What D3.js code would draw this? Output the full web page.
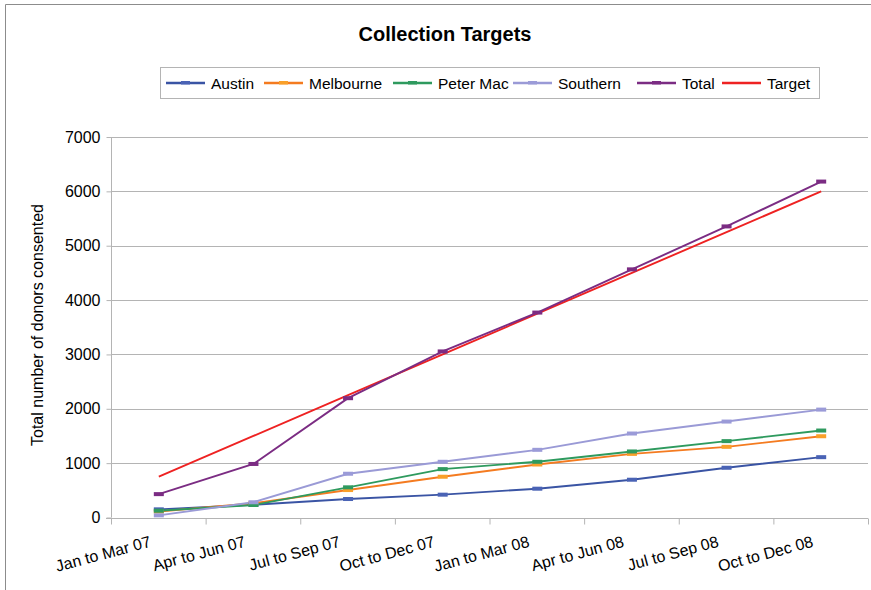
<!DOCTYPE html>
<html><head><meta charset="utf-8">
<script src="https://cdn.jsdelivr.net/npm/d3@7"></script>
<style>body{margin:0;background:#fff;}svg{display:block;font-family:"Liberation Sans",Arial,sans-serif;}</style>
</head><body><svg id="c" width="871" height="590"></svg>
<script>
const categories = ["Jan to Mar 07","Apr to Jun 07","Jul to Sep 07","Oct to Dec 07","Jan to Mar 08","Apr to Jun 08","Jul to Sep 08","Oct to Dec 08"];
const austin    = [150, 235, 340, 420, 530, 695, 915, 1110];
const melbourne = [110, 262, 505, 750, 975, 1170, 1300, 1495];
const peterMac  = [125, 230, 555, 890, 1025, 1215, 1405, 1600];
const southern  = [40, 280, 805, 1025, 1245, 1545, 1765, 1985];
const total     = [430, 985, 2195, 3055, 3770, 4565, 5355, 6180];
const target    = [750, 1500, 2250, 3000, 3750, 4500, 5250, 6000];
const yTicks = [0,1000,2000,3000,4000,5000,6000,7000];
const seriesNames = ["Austin","Melbourne","Peter Mac","Southern","Total","Target"];

const series = [
  {name:"Austin", values:austin, color:"#3a54a4", marker:"#4a63b5"},
  {name:"Melbourne", values:melbourne, color:"#f47b20", marker:"#f9a02a"},
  {name:"Peter Mac", values:peterMac, color:"#2e9a5e", marker:"#2f9a5f"},
  {name:"Southern", values:southern, color:"#9a9ad6", marker:"#9b9bd8"},
  {name:"Total", values:total, color:"#7b2c83", marker:"#7b2c83"},
  {name:"Target", values:target, color:"#ee2222", marker:null}
];

const svg = d3.select("#c");
// frame
svg.append("path").attr("d","M5.5,590 V4.5 H871").attr("fill","none").attr("stroke","#8c8c8c").attr("stroke-width",1);

const x = d3.scaleBand().domain(categories).range([111.5, 868.5]);
const y = d3.scaleLinear().domain([0,7000]).range([517.5, 137]);

// gridlines
svg.append("g").selectAll("line").data(yTicks.filter(d=>d>0)).join("line")
  .attr("x1",111.5).attr("x2",868).attr("y1",d=>Math.round(y(d))+0.5).attr("y2",d=>Math.round(y(d))+0.5)
  .attr("stroke","#b4b4b4").attr("stroke-width",1);

// y axis
const yAxis = svg.append("g").attr("transform","translate(111.5,0)")
  .call(d3.axisLeft(y).tickValues(yTicks).tickSize(5).tickPadding(6).tickFormat(d3.format("d")));
yAxis.select(".domain").attr("stroke","#b4b4b4").attr("d","M0,"+y(0)+"V"+y(7000));
yAxis.selectAll(".tick line").attr("stroke","#b4b4b4");
yAxis.selectAll(".tick text").attr("font-size",16).attr("fill","#000").attr("font-family","Liberation Sans, Arial, sans-serif");

// x axis
const xAxis = svg.append("g").attr("transform","translate(0,"+(Math.round(y(0))+0.5)+")");
xAxis.append("line").attr("x1",106).attr("x2",868).attr("y1",0).attr("y2",0).attr("stroke","#b4b4b4");
const bounds = categories.map(c=>x(c)).concat([x.range()[1]]);
xAxis.selectAll("line.t").data(bounds).join("line").attr("class","t")
  .attr("x1",d=>d).attr("x2",d=>d).attr("y1",0).attr("y2",6).attr("stroke","#b4b4b4");
xAxis.selectAll("text").data(categories).join("text")
  .attr("transform",d=>"translate("+(x(d)+x.bandwidth()/2-7)+",28) rotate(-15)")
  .attr("text-anchor","end").attr("font-size",16).attr("fill","#000").text(d=>d);

// lines
const line = d3.line().x((d,i)=>x(categories[i])+x.bandwidth()/2).y(d=>y(d));
const order = ["Target","Austin","Melbourne","Peter Mac","Southern","Total"];
order.forEach(n=>{
  const s = series.find(s=>s.name===n);
  svg.append("path").datum(s.values).attr("d",line).attr("fill","none")
    .attr("stroke",s.color).attr("stroke-width",1.9);
});
series.forEach(s=>{
  if(!s.marker) return;
  svg.append("g").selectAll("rect").data(s.values).join("rect")
    .attr("x",(d,i)=>x(categories[i])+x.bandwidth()/2-5)
    .attr("y",d=>y(d)-2).attr("width",10).attr("height",4)
    .attr("fill",s.marker);
});

// title
svg.append("text").attr("x",445).attr("y",41).attr("text-anchor","middle")
  .attr("font-size",20).attr("font-weight","bold").text("Collection Targets");

// y label
svg.append("text").attr("transform","translate(43,325) rotate(-90)").attr("text-anchor","middle")
  .attr("font-size",16).text("Total number of donors consented");

// legend
svg.append("rect").attr("x",160.5).attr("y",67.5).attr("width",659).attr("height",31)
  .attr("fill","#fff").attr("stroke","#b4b4b4");
const legX = [166, 264, 393, 513, 637, 722];
series.forEach((s,i)=>{
  const g = svg.append("g").attr("transform","translate("+legX[i]+",83)");
  g.append("line").attr("x1",0).attr("x2",39).attr("y1",0).attr("y2",0).attr("stroke",s.color).attr("stroke-width",2.4);
  if(s.marker) g.append("rect").attr("x",15).attr("y",-2).attr("width",9).attr("height",3.5).attr("fill",s.marker);
  g.append("text").attr("x",45).attr("y",6).attr("font-size",15.5).text(seriesNames[i]);
});
</script></body></html>
